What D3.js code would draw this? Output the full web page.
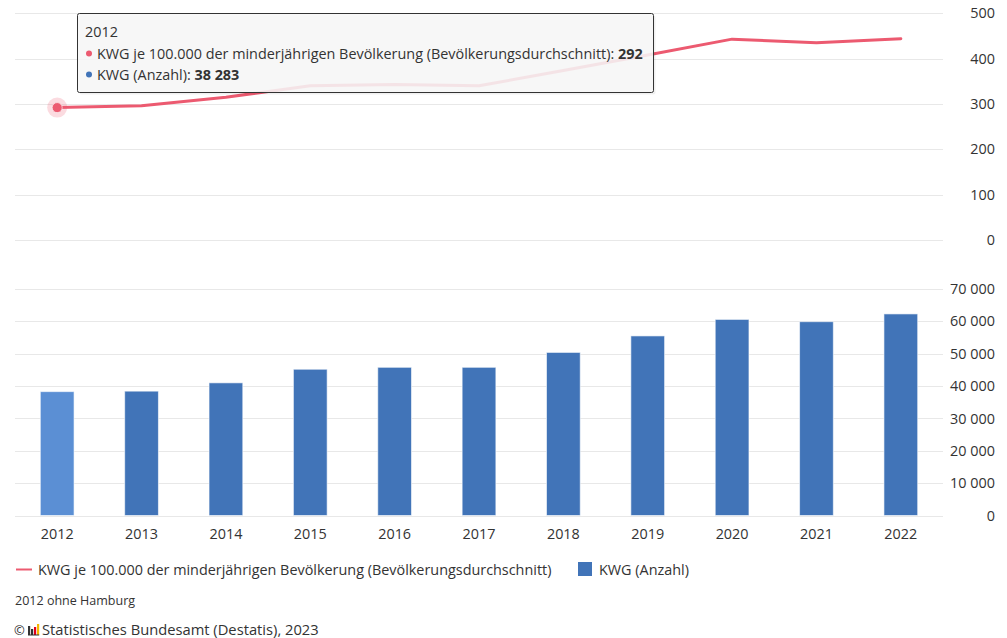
<!DOCTYPE html>
<html><head><meta charset="utf-8">
<script src="https://cdn.jsdelivr.net/npm/d3@7/dist/d3.min.js"></script>
<style>
html,body{margin:0;padding:0;background:#fff;}
svg{display:block;font-family:"Open Sans","Noto Sans",sans-serif;}
</style></head>
<body>
<svg id="chart" width="1007" height="638"></svg>
<script>
const years = ["2012","2013","2014","2015","2016","2017","2018","2019","2020","2021","2022"];
const ratePer100k = [292,296,315,340,343,340,374,408,443,435,444];
const kwgCount = [38283,38431,41000,45200,45800,45800,50400,55500,60600,59900,62300];
const rateTicks = [0,100,200,300,400,500];
const countTicks = [0,10000,20000,30000,40000,50000,60000,70000];
const lineName = "KWG je 100.000 der minderjährigen Bevölkerung (Bevölkerungsdurchschnitt)";
const barName = "KWG (Anzahl)";
const note = "2012 ohne Hamburg";
const source = "Statistisches Bundesamt (Destatis), 2023";
const hoverIndex = 0;

const lineColor = "#ec5a70", barColor = "#4174b8", barHover = "#5b8fd4";
const textColor = "#333333", gridColor = "#e8e8e8";
const FONT = "'Open Sans','Noto Sans',sans-serif";
const fmt = v => d3.format(",")(v).replace(/,/g, " ");

const svg = d3.select("#chart");

// measure to fit the reference text width
const probe = svg.append("text").style("font-family",FONT).style("font-size","14px").text(lineName);
const w = probe.node().getComputedTextLength();
probe.remove();
const fs = 14 * 514 / w;
const fsSmall = fs * 12/14;

const x = d3.scaleBand().domain(years).range([15, 943]);
const yTop = d3.scaleLinear().domain([0,500]).range([240, 13.3]);
const yBot = d3.scaleLinear().domain([0,70000]).range([515.5, 289]);
const cx = d => x(d) + x.bandwidth()/2;

// gridlines
svg.append("g").selectAll("line").data(rateTicks).join("line")
  .attr("x1",15).attr("x2",943).attr("y1",d=>Math.round(yTop(d))+0.5).attr("y2",d=>Math.round(yTop(d))+0.5)
  .attr("stroke",gridColor).attr("stroke-width",1);
svg.append("g").selectAll("line").data(countTicks).join("line")
  .attr("x1",15).attr("x2",943).attr("y1",d=>Math.round(yBot(d))+0.5).attr("y2",d=>Math.round(yBot(d))+0.5)
  .attr("stroke",gridColor).attr("stroke-width",1);

// right axes
const axTop = svg.append("g").attr("transform","translate(995,0)")
  .call(d3.axisRight(yTop).tickValues(rateTicks).tickSize(0).tickPadding(0).tickFormat(d=>fmt(d)));
const axBot = svg.append("g").attr("transform","translate(995,0)")
  .call(d3.axisRight(yBot).tickValues(countTicks).tickSize(0).tickPadding(0).tickFormat(d=>fmt(d)));
[axTop,axBot].forEach(a=>{
  a.select(".domain").remove();
  a.selectAll("text").attr("text-anchor","end").attr("fill",textColor)
    .style("font-size",fs+"px").style("font-family",FONT);
});

// bars
const bw = x.step()*0.4;
svg.append("g").selectAll("rect").data(years).join("rect")
  .attr("x",(d)=>cx(d)-bw/2).attr("width",bw)
  .attr("y",(d,i)=>yBot(kwgCount[i])).attr("height",(d,i)=>yBot(0)-yBot(kwgCount[i]))
  .attr("fill",(d,i)=> i===hoverIndex ? barHover : barColor)
  .attr("stroke","rgba(255,255,255,0.6)").attr("stroke-width",1);

// x axis labels
const axX = svg.append("g").attr("transform","translate(0,529)")
  .call(d3.axisBottom(x).tickSize(0).tickPadding(0));
axX.select(".domain").remove();
axX.selectAll("text").attr("fill",textColor).attr("dy","0.71em")
  .style("font-size",fs+"px").style("font-family",FONT);

// line
const line = d3.line().x((d,i)=>cx(years[i])).y(d=>yTop(d));
svg.append("path").datum(ratePer100k).attr("d",line)
  .attr("fill","none").attr("stroke",lineColor).attr("stroke-width",3)
  .attr("stroke-linejoin","round").attr("stroke-linecap","round");

// hovered marker
const hx = cx(years[hoverIndex]), hy = yTop(ratePer100k[hoverIndex]);
svg.append("circle").attr("cx",hx).attr("cy",hy).attr("r",10).attr("fill",lineColor).attr("opacity",0.22);
svg.append("circle").attr("cx",hx).attr("cy",hy).attr("r",5).attr("fill",lineColor)
  .attr("stroke","#ffffff").attr("stroke-width",1).attr("stroke-opacity",0.6);

// tooltip
const tt = svg.append("g").style("font-family",FONT);
tt.append("rect").attr("x",79.5).attr("y",15.5).attr("width",576).attr("height",79).attr("rx",2)
  .attr("fill","rgba(0,0,0,0.06)");
tt.append("rect").attr("x",77.5).attr("y",13.5).attr("width",576).attr("height",79).attr("rx",2)
  .attr("fill","#f7f7f7").attr("fill-opacity",0.88).attr("stroke","#333").attr("stroke-width",1);
tt.append("text").attr("x",85).attr("y",37).attr("fill",textColor).style("font-size",fs+"px").text(years[hoverIndex]);
tt.append("circle").attr("cx",89).attr("cy",53.5).attr("r",3).attr("fill",lineColor);
const t1 = tt.append("text").attr("x",97).attr("y",58.5).attr("fill",textColor).style("font-size",fs+"px");
t1.append("tspan").text(lineName + ": ");
t1.append("tspan").attr("font-weight","bold").text(fmt(ratePer100k[hoverIndex]));
tt.append("circle").attr("cx",89).attr("cy",74.5).attr("r",3).attr("fill",barColor);
const t2 = tt.append("text").attr("x",97).attr("y",79.5).attr("fill",textColor).style("font-size",fs+"px");
t2.append("tspan").text(barName + ": ");
t2.append("tspan").attr("font-weight","bold").text(fmt(kwgCount[hoverIndex]));

// legend
svg.append("line").attr("x1",16).attr("x2",32).attr("y1",569.5).attr("y2",569.5)
  .attr("stroke",lineColor).attr("stroke-width",2);
svg.append("text").attr("x",38).attr("y",574.5).attr("fill",textColor).style("font-size",fs+"px").text(lineName);
svg.append("rect").attr("x",578).attr("y",562).attr("width",14).attr("height",14).attr("fill",barColor);
svg.append("text").attr("x",599).attr("y",574.5).attr("fill",textColor).style("font-size",fs+"px").text(barName);

// footer
svg.append("text").attr("x",15).attr("y",605).attr("fill",textColor).style("font-size",(fsSmall*1.015)+"px").text(note);
svg.append("text").attr("x",14).attr("y",635).attr("fill",textColor).style("font-size",(fs*0.9)+"px").text("©");
const logo = svg.append("g").attr("transform","translate(28,624)");
logo.append("rect").attr("x",0).attr("y",2).attr("width",2.2).attr("height",9).attr("fill","#333");
logo.append("rect").attr("x",3).attr("y",5).attr("width",2.2).attr("height",6).attr("fill","#333");
logo.append("rect").attr("x",6).attr("y",3).attr("width",2.2).attr("height",8).attr("fill","#e3001b");
logo.append("rect").attr("x",9).attr("y",0).attr("width",2.2).attr("height",11).attr("fill","#f5b800");
logo.append("rect").attr("x",0).attr("y",10.5).attr("width",11.2).attr("height",1).attr("fill","#333");
svg.append("text").attr("x",42).attr("y",635).attr("fill",textColor).style("font-size",(fs*1.022)+"px").text(source);
</script>
</body></html>
